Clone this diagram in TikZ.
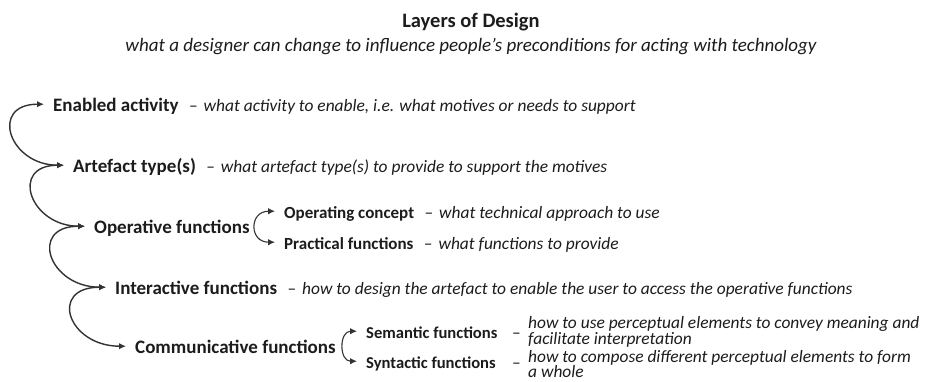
\documentclass[tikz,border=0pt]{standalone}
\usepackage{fontspec}
\setmainfont{Carlito}
\usetikzlibrary{calc,arrows.meta}
\definecolor{ink}{HTML}{1C1C1C}
\definecolor{wire}{HTML}{333333}
\tikzset{
  lbl/.style={anchor=base west, inner sep=0pt, text=ink,
    font=\fontsize{19}{21}\selectfont\bfseries},
  sublbl/.style={lbl, font=\fontsize{17}{19}\selectfont\bfseries},
  desc/.style={anchor=base west, inner sep=0pt, text=ink,
    font=\fontsize{17.4}{19}\selectfont},
  layerlink/.style={draw=wire, line width=1.4pt, {Latex[length=7pt,width=6.5pt]}-{Latex[length=7pt,width=6.5pt]}},
}
\newcommand{\twolines}[2]{\vtop{\baselineskip=14pt\hbox{#1}\hbox{#2}}}
\begin{document}
\begin{tikzpicture}[x=1pt,y=-1pt]
\useasboundingbox (0,0) rectangle (925,381);
\fill[white] (0,0) rectangle (925,381);

% heading
\node[anchor=base, inner sep=0pt, text=ink, font=\fontsize{20.5}{24}\selectfont\bfseries] (title) at (471,27) {Layers of Design};
\node[anchor=base, inner sep=0pt, text=ink, font=\fontsize{19}{22}\selectfont\itshape] (subtitle) at (471,51)
  {what a designer can change to influence people’s preconditions for acting with technology};

% main layers
\node[lbl] (l1) at (53,111) {Enabled activity};
\node[lbl] (l2) at (73,172) {Artefact type(s)};
\node[lbl] (l3) at (94,233) {Operative functions};
\node[lbl] (l4) at (115,294) {Interactive functions};
\node[lbl] (l5) at (135,353) {Communicative functions};

% sub-layers
\node[sublbl] (o1) at (284,218) {Operating concept};
\node[sublbl] (o2) at (284,249) {Practical functions};
\node[sublbl, font=\fontsize{16.6}{19}\selectfont\bfseries] (c1) at (366,338) {Semantic functions};
\node[sublbl, font=\fontsize{16.6}{19}\selectfont\bfseries] (c2) at (366,368) {Syntactic functions};

% descriptions
\node[desc] (d1) at ($(l1.base east)+(10pt,0pt)$) {–\hspace{6pt}\textit{what activity to enable, i.e. what motives or needs to support}};
\node[desc] (d2) at ($(l2.base east)+(10pt,0pt)$) {–\hspace{6pt}\textit{what artefact type(s) to provide to support the motives}};
\node[desc] (d4) at ($(l4.base east)+(10pt,0pt)$) {–\hspace{6pt}\textit{how to design the artefact to enable the user to access the operative functions}};
\node[desc] (e1) at ($(o1.base east)+(10pt,0pt)$) {–\hspace{6pt}\textit{what technical approach to use}};
\node[desc] (e2) at ($(o2.base east)+(10pt,0pt)$) {–\hspace{6pt}\textit{what functions to provide}};
\node[desc] (f1) at (512,338) {–};
\node[desc] (f1t) at (528,328) {\itshape\twolines{how to use perceptual elements to convey meaning and}{facilitate interpretation}};
\node[desc] (f2) at (512,368) {–};
\node[desc] (f2t) at (528,362) {\itshape\twolines{how to compose different perceptual elements to form}{a whole}};

% arrow entry points just left of each label
\foreach \n in {l1,l2,l3,l4,l5,o1,o2,c1,c2}
  \coordinate (\n-in) at ($(\n.base west)+(-9pt,6.8pt)$);

% chain of layers
\draw[layerlink] (l1-in) .. controls +(-55pt,0pt) and +(-55pt,0pt) .. (l2-in);
\draw[layerlink] (l2-in) .. controls +(-55pt,0pt) and +(-55pt,0pt) .. (l3-in);
\draw[layerlink] (l3-in) .. controls +(-57pt,0pt) and +(-57pt,0pt) .. (l4-in);
\draw[layerlink] (l4-in) .. controls +(-58pt,0pt) and +(-58pt,0pt) .. (l5-in);

% branching brackets
\draw[layerlink, line width=1.1pt] (o1-in) .. controls +(-26pt,0pt) and +(-26pt,0pt) .. (o2-in);
\draw[layerlink, line width=1.1pt] (c1-in) .. controls +(-18pt,0pt) and +(-18pt,0pt) .. (c2-in);
\end{tikzpicture}
\end{document}
